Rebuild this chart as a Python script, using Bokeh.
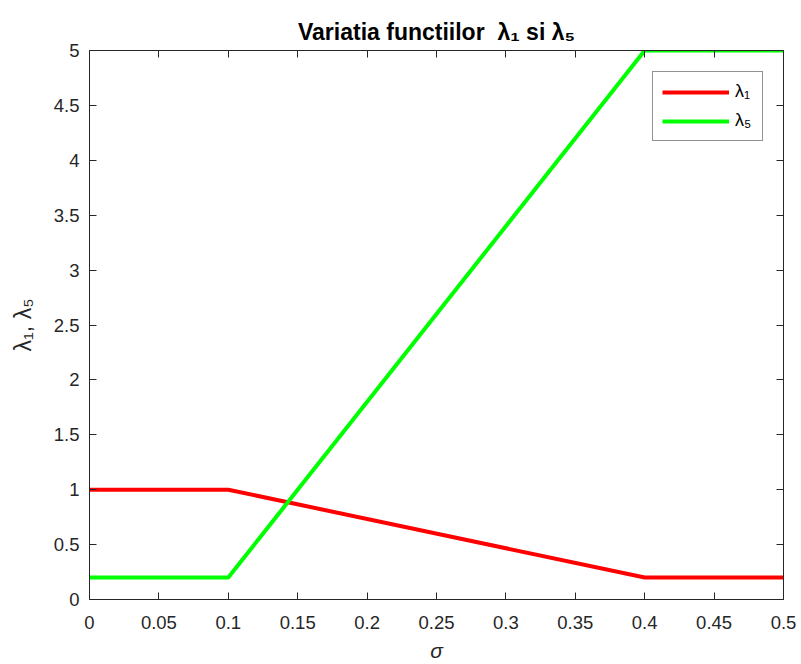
from bokeh.plotting import figure
from bokeh.models import (Range1d, LinearAxis, FixedTicker, Legend, LegendItem,
                          CustomJSTickFormatter)
from bokeh.embed import file_html
from bokeh.resources import INLINE

# ---- data ----
sigma = [0.0, 0.1, 0.4, 0.5]
lambda1 = [1.0, 1.0, 0.2, 0.2]
lambda5 = [0.2, 0.2, 5.0, 5.0]

x_ticks = [0, 0.05, 0.1, 0.15, 0.2, 0.25, 0.3, 0.35, 0.4, 0.45, 0.5]
x_tick_labels = ["0", "0.05", "0.1", "0.15", "0.2", "0.25", "0.3", "0.35", "0.4", "0.45", "0.5"]
y_ticks = [0, 0.5, 1, 1.5, 2, 2.5, 3, 3.5, 4, 4.5, 5]
y_tick_labels = ["0", "0.5", "1", "1.5", "2", "2.5", "3", "3.5", "4", "4.5", "5"]

title_text = "Variatia functiilor\u00a0 λ₁ si λ₅"
x_label = "σ"
y_label = "λ₁, λ₅"
series_labels = ["λ₁", "λ₅"]

# ---- layout ----
W, H = 801, 664
BL, BR, BT, BB = 89, 18, 50, 65
FONT = "Liberation Sans"
AX = "#262626"
TICK_FS = "18.5px"

p = figure(width=W, height=H, x_range=Range1d(0, 0.5), y_range=Range1d(0, 5),
           output_backend="svg", toolbar_location=None,
           min_border_left=BL, min_border_right=BR, min_border_top=BT, min_border_bottom=BB,
           background_fill_color="white", border_fill_color="white")
p.outline_line_color = None
p.xgrid.visible = False
p.ygrid.visible = False

p.title.text = title_text
p.title.align = "center"
p.title.text_font = FONT
p.title.text_font_size = "23px"
p.title.text_font_style = "bold"
p.title.text_color = "black"
p.title.standoff = 12


def fmt(tks, lbls):
    return CustomJSTickFormatter(args=dict(tks=tks, lbls=lbls), code="""
        let best = 0;
        for (let i = 0; i < tks.length; i++) {
            if (Math.abs(tks[i] - tick) < Math.abs(tks[best] - tick)) best = i;
        }
        return lbls[best];
    """)


def style(ax):
    ax.axis_line_color = AX
    ax.axis_line_width = 1
    ax.major_tick_line_color = AX
    ax.major_tick_in = 7
    ax.major_tick_out = 0
    ax.minor_tick_line_color = None
    ax.major_label_text_font = FONT
    ax.major_label_text_font_size = TICK_FS
    ax.major_label_text_color = AX


xa = p.xaxis[0]
xa.ticker = FixedTicker(ticks=x_ticks)
xa.formatter = fmt(x_ticks, x_tick_labels)
style(xa)
xa.major_label_standoff = 16
xa.axis_label = x_label
xa.axis_label_text_font = FONT
xa.axis_label_text_font_style = "italic"
xa.axis_label_text_font_size = "21px"
xa.axis_label_text_color = AX
xa.axis_label_standoff = 7

ya = p.yaxis[0]
ya.ticker = FixedTicker(ticks=y_ticks)
ya.formatter = fmt(y_ticks, y_tick_labels)
style(ya)
ya.major_label_standoff = 10
ya.axis_label = y_label
ya.axis_label_text_font = FONT
ya.axis_label_text_font_style = "normal"
ya.axis_label_text_font_size = "23px"
ya.axis_label_text_color = AX
ya.axis_label_standoff = 15

top = LinearAxis(ticker=FixedTicker(ticks=x_ticks),
                 formatter=CustomJSTickFormatter(code="return '';"))
style(top)
top.major_label_standoff = 0
top.major_label_text_font_size = "1px"
p.add_layout(top, "above")

right = LinearAxis(ticker=FixedTicker(ticks=y_ticks),
                   formatter=CustomJSTickFormatter(code="return '';"))
style(right)
right.major_label_standoff = 0
right.major_label_text_font_size = "1px"
p.add_layout(right, "right")

# ---- data lines ----
r1 = p.line(sigma, lambda1, line_color="#ff0000", line_width=4, line_join="round")
r5 = p.line(sigma, lambda5, line_color="#00ff00", line_width=4, line_join="round")

# ---- legend ----
legend = Legend(items=[LegendItem(label=series_labels[0], renderers=[r1]),
                       LegendItem(label=series_labels[1], renderers=[r5])],
                location=(652 - BL, (H - BB) - 141),
                orientation="vertical", padding=9, margin=0, spacing=8,
                glyph_width=67, glyph_height=20, label_standoff=6,
                label_width=18, label_height=20,
                border_line_color=AX, border_line_width=1,
                background_fill_color="white", background_fill_alpha=1.0,
                label_text_font=FONT, label_text_font_size="18px",
                label_text_color="black")
p.add_layout(legend)

open("out.html", "w").write(file_html(p, INLINE))
